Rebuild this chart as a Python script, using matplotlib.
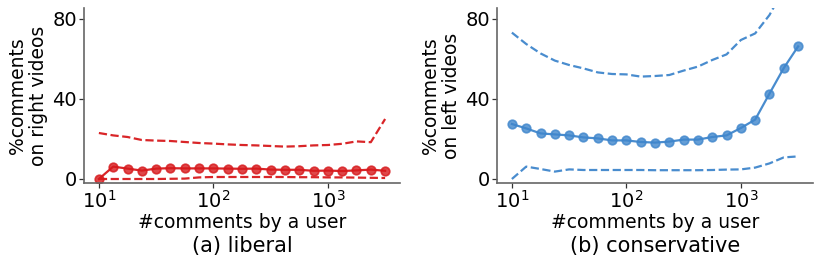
import numpy as np
import matplotlib
matplotlib.use("Agg")
import matplotlib.pyplot as plt

x_exp = [1 + k / 8 for k in range(21)]
x = [10 ** e for e in x_exp]

lib_mean = [0, 6.2, 5.2, 4.2, 5.2, 5.4, 5.3, 5.3, 5.3, 5.2, 5.1, 5.2, 4.7, 4.6, 4.6, 4.1, 4.2, 4.0, 4.3, 4.7, 4.1]
lib_upper = [23.0, 21.8, 21.0, 19.5, 19.2, 19.0, 18.5, 18.0, 17.7, 17.3, 17.0, 16.8, 16.5, 16.2, 16.4, 16.8, 17.0, 17.6, 18.8, 18.4, 30.0]
lib_lower = [0.0, 0.0, 0.0, 0.0, 0.0, 0.1, 0.2, 0.8, 1.0, 1.0, 1.0, 1.0, 1.0, 1.0, 0.9, 0.9, 0.8, 0.8, 0.7, 0.6, 0.5]

con_mean = [27.5, 25.3, 22.8, 22.3, 21.8, 20.8, 20.3, 19.3, 19.3, 18.5, 18.2, 18.7, 19.7, 19.7, 21.0, 21.8, 25.5, 29.7, 42.7, 55.5, 66.3]
con_upper = [73.2, 67.5, 62.8, 59.2, 57.0, 55.3, 53.3, 52.5, 52.3, 51.2, 51.5, 52.0, 54.2, 56.2, 59.5, 62.3, 69.5, 72.8, 82.0, 95.0, 100.0]
con_lower = [0.0, 6.2, 5.0, 3.7, 4.8, 4.5, 4.5, 4.5, 4.5, 4.5, 4.4, 4.4, 4.4, 4.4, 4.5, 4.7, 4.8, 5.7, 7.8, 10.8, 11.3]

red = "#d7191c"
blue = "#3f86cc"

fig = plt.figure(figsize=(8.23, 2.68), dpi=100)
ax1 = fig.add_axes([84 / 823, 1 - 183 / 268, 316 / 823, 175 / 268])
ax2 = fig.add_axes([497 / 823, 1 - 183 / 268, 316 / 823, 175 / 268])

panels = [
    (ax1, lib_mean, lib_upper, lib_lower, red, "%comments\non right videos", "(a) liberal"),
    (ax2, con_mean, con_upper, con_lower, blue, "%comments\non left videos", "(b) conservative"),
]

for ax, m, u, l, c, ylab, title in panels:
    ax.plot(x, m, "-", color=c, lw=1.6, alpha=0.95)
    ax.plot(x, m, "o", markersize=6.2, markerfacecolor=c, markeredgecolor=c,
            markeredgewidth=1.2, alpha=0.8)
    ax.plot(x, u, "--", color=c, lw=1.6, alpha=0.95)
    ax.plot(x, l, "--", color=c, lw=1.6, alpha=0.95)
    ax.set_xscale("log")
    ax.set_xlim(10 ** 0.87, 10 ** 3.63)
    ax.set_ylim(-2, 85.5)
    ax.set_yticks([0, 40, 80])
    ax.set_xticks([10, 100, 1000])
    ax.minorticks_off()
    for s in ["top", "right"]:
        ax.spines[s].set_visible(False)
    for s in ["left", "bottom"]:
        ax.spines[s].set_color("#666666")
        ax.spines[s].set_linewidth(1.2)
    ax.tick_params(labelsize=14, length=3.5, width=0.9, color="#333333", pad=1.5)
    ax.set_ylabel(ylab, fontsize=13.5, labelpad=3, linespacing=1.15)
    ax.set_xlabel("#comments by a user", fontsize=13.5, labelpad=1)
    ax.text(0.5, -(246 - 183) / 175, title, transform=ax.transAxes,
            ha="center", va="center", fontsize=15)

fig.savefig("out.png", dpi=100)
